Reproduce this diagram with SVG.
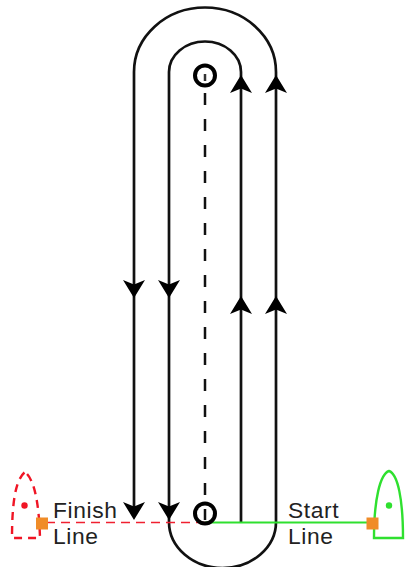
<svg xmlns="http://www.w3.org/2000/svg" width="407" height="567" viewBox="0 0 407 567">
<style>
.c{fill:none;stroke:#111;stroke-width:2.700}
.h{fill:#000}
.t{font-family:"Liberation Sans",Arial,sans-serif;font-size:22.800px;letter-spacing:.6px;fill:#222}
.b{fill:none;stroke:#000;stroke-width:4}
</style>
<defs>
<path id="up" class="h" d="M0,0L11,18L0,13.500L-11,18Z"/>
<path id="down" class="h" d="M0,0L11,-18L0,-13.500L-11,-18Z"/>
</defs>
<rect width="407" height="567" fill="#fff"/>
<g id="connectors">
<path class="c" d="M134,508V72A71,64.500 0 0 1 276,72V522A53.500,46 0 0 1 169,522V72A36,30.500 0 0 1 241,72V523"/>
<path d="M205,93V520" fill="none" stroke="#111" stroke-width="2.500" stroke-dasharray="12 14"/>
<path d="M205,74V81" fill="none" stroke="#333" stroke-width="2.500"/>
<path d="M205,522.500H41" fill="none" stroke="#f02030" stroke-width="1.500" stroke-dasharray="9 6"/>
<path d="M205,522.500H372" fill="none" stroke="#2fe02f" stroke-width="2"/>
<use href="#down" x="134" y="298"/>
<use href="#down" x="169" y="298"/>
<use href="#down" x="134" y="520"/>
<use href="#down" x="169" y="520"/>
<use href="#up" x="241" y="75"/>
<use href="#up" x="276" y="75"/>
<use href="#up" x="241" y="296"/>
<use href="#up" x="276" y="296"/>
</g>
<g id="buoy-top"><circle class="b" cx="205" cy="75.500" r="10"/></g>
<g id="buoy-bottom"><circle class="b" cx="205" cy="513.500" r="10"/></g>
<g id="finish-boat">
<path d="M25,472C35,480 39,505 40,538H12C12,505 15,480 25,472Z" fill="none" stroke="#f01525" stroke-width="2.400" stroke-dasharray="8 6" stroke-dashoffset="-3"/>
<circle cx="24.500" cy="505.500" r="3.200" fill="#f01525"/>
</g>
<g id="start-boat">
<path d="M389,471C398,474 403,500 403,538H374C374,500 380,474 389,471Z" fill="none" stroke="#2fe02f" stroke-width="2.400"/>
<circle cx="389" cy="505.500" r="3.200" fill="#2fe02f"/>
</g>
<g id="finish-mark"><rect x="36" y="517.500" width="12" height="12" fill="#f08c28"/></g>
<g id="start-mark"><rect x="366.500" y="517.500" width="12" height="12" fill="#f08c28"/></g>
<g id="finish-label"><text class="t" x="53" y="518">Finish</text><text class="t" x="53" y="544">Line</text></g>
<g id="start-label"><text class="t" x="288" y="518">Start</text><text class="t" x="288" y="544">Line</text></g>
</svg>
